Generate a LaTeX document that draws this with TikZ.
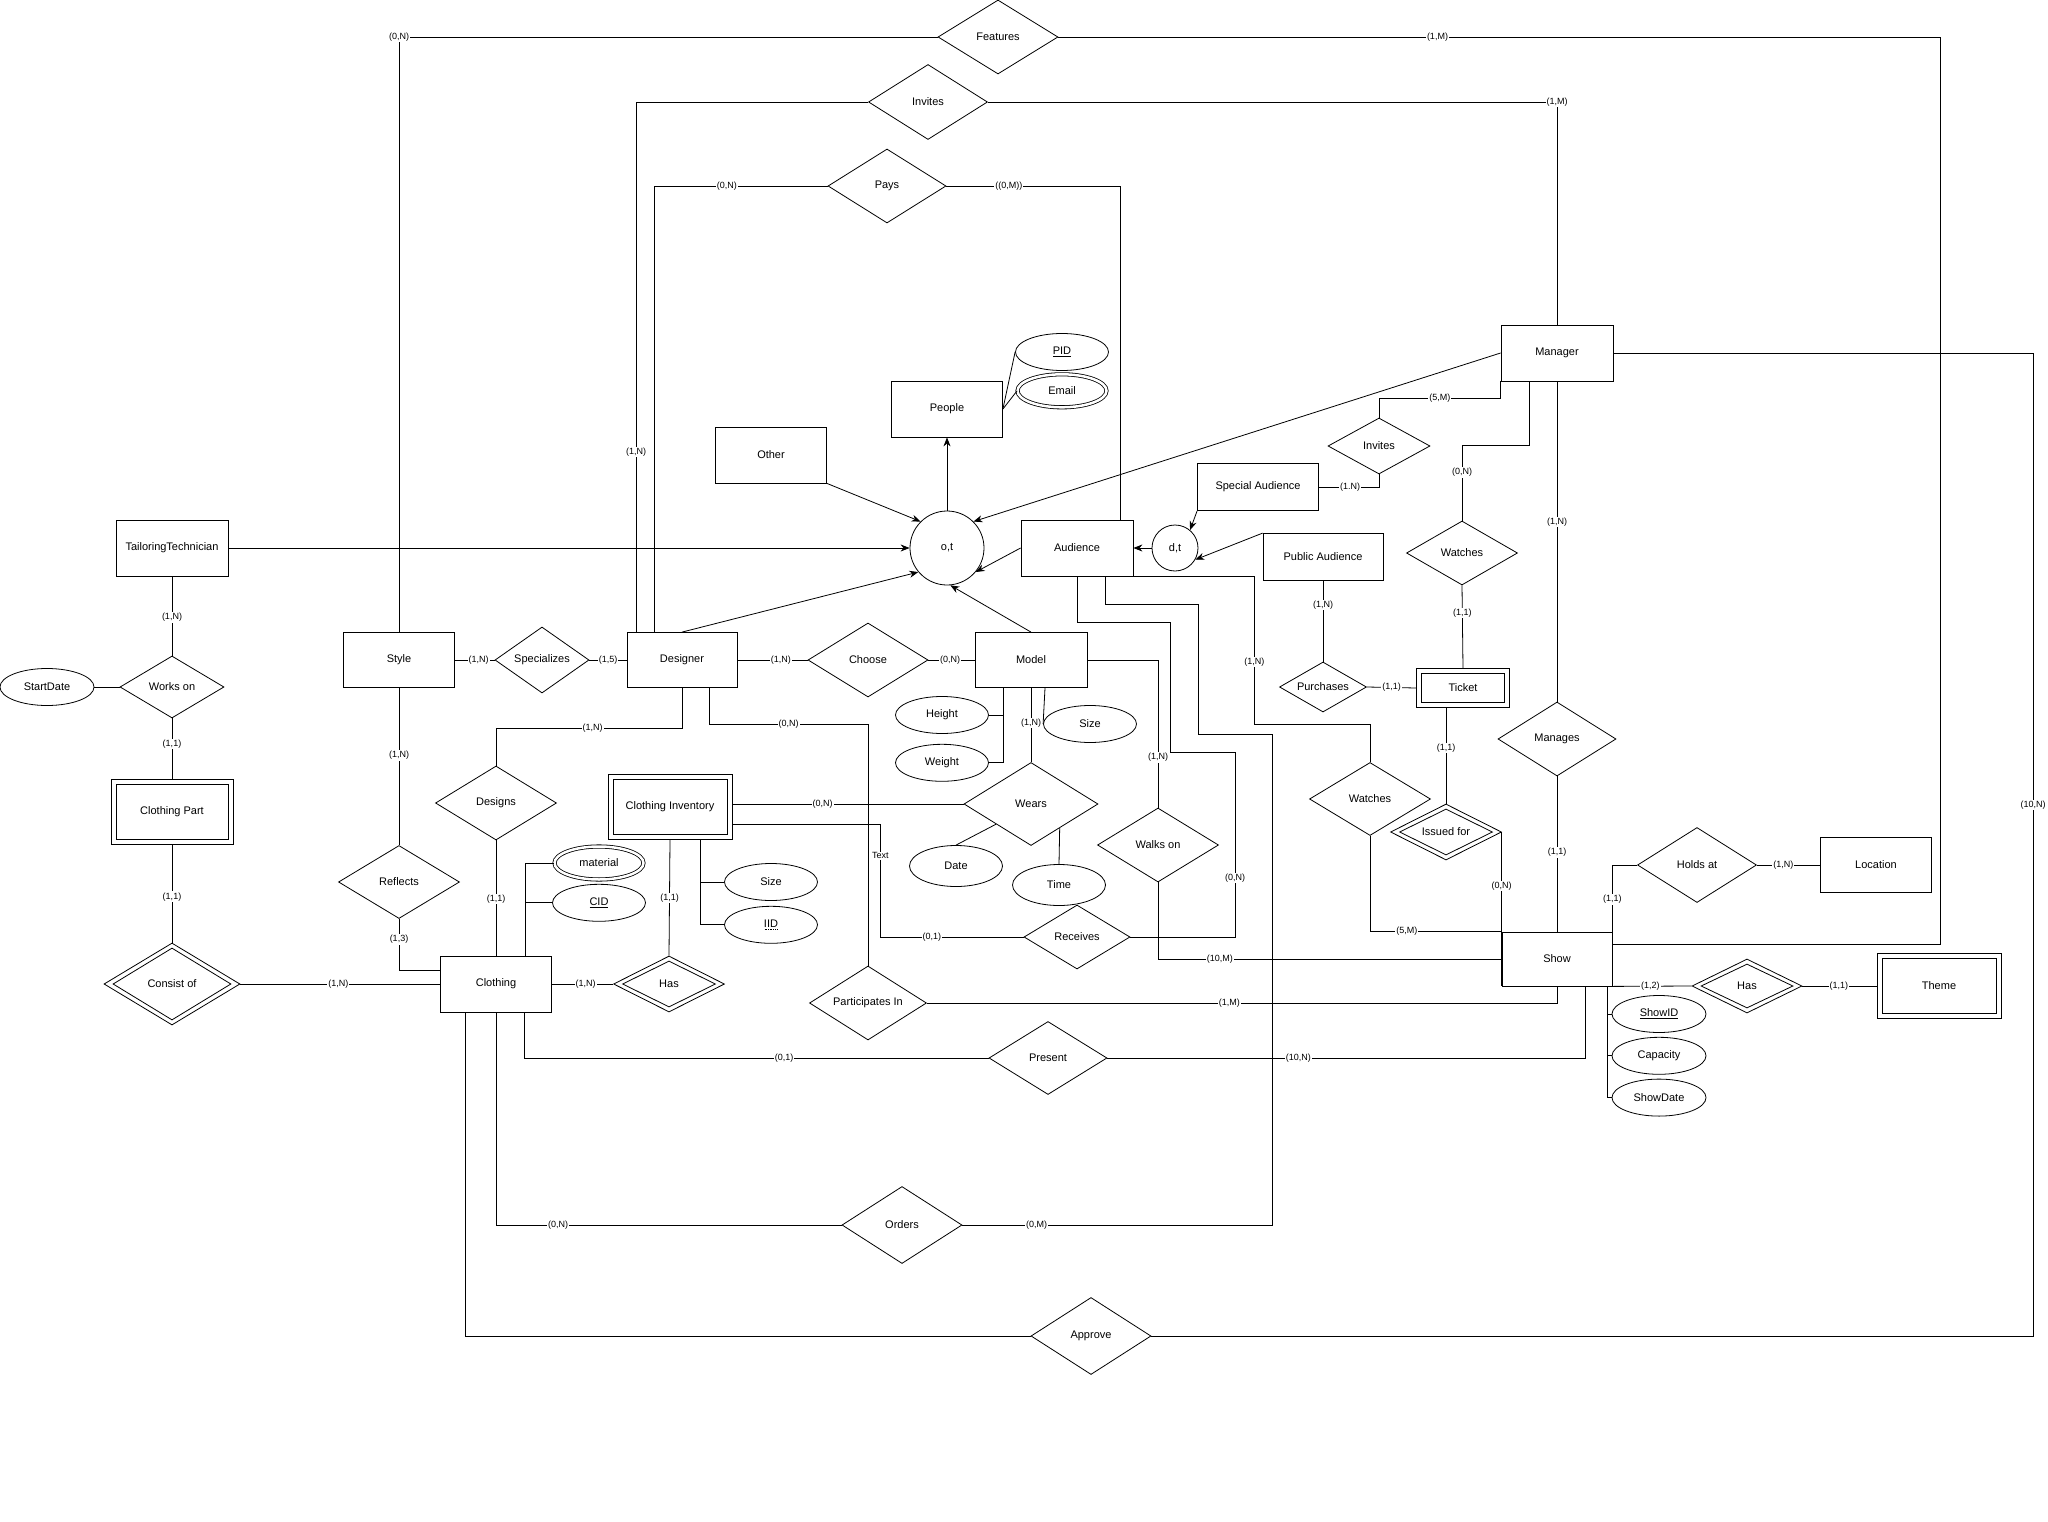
\documentclass[tikz,border=0pt]{standalone}
\usepackage{fontspec}
\setmainfont{Liberation Sans}
\usepackage{tikz}
\usetikzlibrary{shapes.geometric, arrows.meta, positioning, calc}
\newcommand\dotkey[1]{\setbox0=\hbox{#1}\rlap{\copy0}\raisebox{-2.5pt}{\hbox to \wd0{\xleaders\hbox to 1.6pt{\hss\rule{0.8pt}{0.6pt}\hss}\hfill}}}

\begin{document}
\begin{tikzpicture}[x=1pt, y=-1pt,
    every node/.style={font=\fontsize{11}{13}\selectfont},
    ent/.style 2 args={rectangle, draw, line width=0.8pt, minimum width=#1pt, minimum height=#2pt, inner sep=1pt},
    weakent/.style 2 args={ent={#1}{#2}, path picture={
        \draw[line width=0.8pt] ([shift={(5pt,-5pt)}]path picture bounding box.north west)
            rectangle ([shift={(-5pt,5pt)}]path picture bounding box.south east);}},
    rel/.style 2 args={diamond, draw, line width=0.8pt, aspect=1.6, inner sep=1pt, minimum width=#1pt, minimum height=#2pt},
    weakrel/.style 2 args={rel={#1}{#2}, path picture={
        \draw[line width=0.8pt] ([yshift=-5pt]path picture bounding box.north)
            -- ([xshift=-9pt]path picture bounding box.east)
            -- ([yshift=5pt]path picture bounding box.south)
            -- ([xshift=9pt]path picture bounding box.west) -- cycle;}},
    attr/.style={ellipse, draw, line width=0.8pt, minimum width=93pt, minimum height=37pt, inner sep=1pt},
    multiattr/.style={attr, double, double distance=2.5pt, minimum width=89pt, minimum height=33pt},
    isa/.style={circle, draw, line width=0.8pt, inner sep=1pt, minimum size=#1pt},
    card/.style={font=\fontsize{9}{10}\selectfont, fill=white, inner sep=1pt},
    link/.style={line width=0.8pt},
    arrow/.style={link, -{Stealth[length=9pt, width=7pt]}}
]
\useasboundingbox[fill=white] (0,0) rectangle (2048,1522);

\node[ent={111}{56}] (people) at (947,409) {People};
\node[ent={111}{56}] (other) at (771,455) {Other};
\node[ent={112}{56}] (tech) at (172,548) {TailoringTechnician};
\node[ent={111}{55}] (style) at (399,660) {Style};
\node[ent={110}{55}] (designer) at (682,660) {Designer};
\node[ent={112}{55}] (model) at (1031,660) {Model};
\node[ent={112}{56}] (audience) at (1077,548) {Audience};
\node[ent={121}{47}] (special) at (1258,487) {Special Audience};
\node[ent={120}{47}] (public) at (1323,557) {Public Audience};
\node[ent={112}{56}] (manager) at (1557,353) {Manager};
\node[ent={111}{56}] (clothing) at (496,984) {Clothing};
\node[ent={110}{54}] (show) at (1557,959) {Show};
\node[ent={111}{55}] (location) at (1876,865) {Location};
\node[weakent={122}{65}] (part) at (172,812) {Clothing Part};
\node[weakent={124}{65}] (inventory) at (670,807) {Clothing Inventory};
\node[weakent={93}{39}] (ticket) at (1463,688) {Ticket};
\node[weakent={124}{65}] (theme) at (1939,986) {Theme};

\node[rel={120}{74}] (features) at (998,37) {Features};
\node[rel={119}{75}] (invitesM) at (928,102) {Invites};
\node[rel={118}{74}] (pays) at (887,186) {Pays};
\node[rel={102}{56}] (invitesS) at (1379,446) {Invites};
\node[rel={111}{64}] (watchesT) at (1462,553) {Watches};
\node[rel={87}{50}] (purchases) at (1323,687) {Purchases};
\node[rel={104}{62}] (works) at (172,687) {Works on};
\node[weakrel={136}{82}] (consist) at (172,984) {Consist of};
\node[rel={94}{66}] (specializes) at (542,660) {Specializes};
\node[rel={121}{73}] (reflects) at (399,882) {Reflects};
\node[rel={121}{74}] (designs) at (496,803) {Designs};
\node[rel={120}{74}] (choose) at (868,660) {Choose};
\node[rel={134}{83}] (wears) at (1031,804) {Wears};
\node[rel={106}{64}] (receives) at (1077,937) {Receives};
\node[rel={121}{74}] (walks) at (1158,845) {Walks on};
\node[rel={121}{73}] (watchesS) at (1370,799) {Watches};
\node[weakrel={111}{56}] (issued) at (1446,832) {Issued for};
\node[rel={118}{74}] (manages) at (1557,739) {Manages};
\node[rel={119}{75}] (holds) at (1697,865) {Holds at};
\node[weakrel={111}{56}] (hasC) at (669,984) {Has};
\node[weakrel={110}{54}] (hasT) at (1747,986) {Has};
\node[rel={117}{74}] (participates) at (868,1003) {Participates In};
\node[rel={118}{73}] (present) at (1048,1058) {Present};
\node[rel={120}{77}] (orders) at (902,1225) {Orders};
\node[rel={120}{77}] (approve) at (1091,1336) {Approve};

\node[attr] (pid) at (1062,352) {\underline{PID}};
\node[multiattr, below=3pt of pid] (email) {Email};
\node[attr, minimum width=94pt] (startdate) at (47,687) {StartDate};
\node[multiattr] (material) at (599,863) {material};
\node[attr, below=4pt of material] (cid) {\underline{CID}};
\node[attr] (invsize) at (771,882) {Size};
\node[attr, below=5pt of invsize] (iid) {\dotkey{IID}};
\node[attr] (height) at (942,715) {Height};
\node[attr, below=10pt of height] (weight) {Weight};
\node[attr] (modelsize) at (1090,724) {Size};
\node[attr, minimum height=41pt] (date) at (956,866) {Date};
\node[attr, minimum height=41pt] (time) at (1059,885) {Time};
\node[attr, minimum width=94pt] (showid) at (1659,1014) {\underline{ShowID}};
\node[attr, minimum width=94pt, below=4pt of showid] (capacity) {Capacity};
\node[attr, minimum width=94pt, below=4pt of capacity] (showdate) {ShowDate};

\node[isa=74] (ot) at (947,548) {o,t};
\node[isa=46] (dt) at (1175,548) {d,t};

\coordinate (rimF) at (1940,37);
\coordinate (rimM) at (2033,353);

\draw[link] (style.north) |- node[card, pos=.5]{(0,N)} (features.west);
\draw[link] (features.east) -- node[card, pos=.43]{(1,M)} (rimF) |- ([yshift=15pt]show.east);
\draw[link] ([xshift=-46pt]designer.north) |- node[card, pos=.17]{(1,N)} (invitesM.west);
\draw[link] (invitesM.east) -| node[card, pos=.5]{(1,M)} (manager.north);
\draw[link] ([xshift=-28pt]designer.north) |- node[card, pos=.71]{(0,N)} (pays.west);
\draw[link] (pays.east) -| node[card, pos=.18]{((0,M))} ([xshift=43pt]audience.north);

\draw[arrow] (tech.east) -- (ot.west);
\draw[arrow] (other.south east) -- (ot.135);
\draw[arrow] (ot.north) -- (people.south);
\draw[arrow] (manager.west) -- (ot.45);
\draw[arrow] (designer.north) -- (ot.-140);
\draw[arrow] (model.north) -- (ot.-85);
\draw[arrow] (audience.west) -- (ot.-40);
\draw[arrow] (dt.west) -- (audience.east);
\draw[arrow] (special.south west) -- (dt.50);
\draw[arrow] (public.north west) -- (dt.-30);
\draw[link] (people.east) -- (pid.west);
\draw[link] (people.east) -- (email.west);

\draw[link] (invitesS.north) -- ++(0,-19) -| node[card, pos=.25]{(5,M)} (manager.south west);
\draw[link] (invitesS.south) |- node[card, pos=.74]{(1.N)} (special.east);
\draw[link] (watchesT.north) -- node[card, pos=.64]{(0,N)} ++(0,-75) -| ([xshift=-28pt]manager.south);
\draw[link] (watchesT.south) -- node[card, pos=.33]{(1,1)} (ticket.north);
\draw[link] (manager.south) -- node[card, pos=.44]{(1,N)} (manages.north);
\draw[link] (manages.south) -- node[card, pos=.49]{(1,1)} (show.north);
\draw[link] (manager.east) -- (rimM) |- node[card, pos=.23]{(10,N)} (approve.east);

\draw[link] (public.south) -- node[card, pos=.3]{(1,N)} (purchases.north);
\draw[link] (purchases.east) -- node[card, pos=.5]{(1,1)} (ticket.west);
\draw[link] ([xshift=-17pt]ticket.south) -- node[card, pos=.42]{(1,1)} (issued.north);
\draw[link] (show.south west |- issued.east) -- node[card, pos=.35]{(0,N)} (show.south west);

\draw[link] (holds.west) -| node[card, pos=.76]{(1,1)} (show.north east);
\draw[link] (holds.east) -- node[card, pos=.42]{(1,N)} (location.west);
\draw[link] (show.south east) -- node[card, pos=.48]{(1,2)} (hasT.west);
\draw[link] (hasT.east) -- node[card, pos=.49]{(1,1)} (theme.west);
\draw[link] ([xshift=50pt]show.south) |- (showid.west);
\draw[link] ([xshift=50pt]show.south) |- (capacity.west);
\draw[link] ([xshift=50pt]show.south) |- (showdate.west);

\draw[link] (walks.south) |- node[card, pos=.59]{(10,M)} (show.west);
\draw[link] (watchesS.south) |- node[card, pos=.64]{(5,M)} (show.north west);
\draw[link] (participates.east) -| node[card, pos=.24]{(1,M)} (show.south);
\draw[link] ([xshift=28pt]show.south) |- node[card, pos=.8]{(10,N)} (present.east);
\draw[link] (present.west) -| node[card, pos=.22]{(0,1)} ([xshift=28pt]clothing.south);

\draw[link] (audience.south) -- ++(0,46) -- ++(93,0) -- ++(0,130) -- ++(65,0) |- node[card, pos=.34]{(0,N)} (receives.east);
\draw[link] ([xshift=28pt]audience.south) -- ++(0,28) -- ++(93,0) -- ++(0,130) -- ++(74,0) |- node[card, pos=.88]{(0,M)} (orders.east);
\draw[link] (audience.south east) -| node[card, pos=.79]{(1,N)} ++(121,148) -| (watchesS.north);

\draw[link] (model.east) -| node[card, pos=.83]{(1,N)} (walks.north);
\draw[link] (model.south) -- node[card, pos=.47]{(1,N)} (wears.north);
\draw[link] ([xshift=-28pt]model.south) |- (height.east);
\draw[link] ([xshift=-28pt]model.south) |- (weight.east);
\draw[link] ([xshift=14pt]model.south) -- (modelsize.west);
\draw[link] (wears.-150) -- (date.north);
\draw[link] (wears.-40) -- (time.north);

\draw[link] (style.east) -- node[card, pos=.6]{(1,N)} (specializes.west);
\draw[link] (specializes.east) -- node[card, pos=.5]{(1,5)} (designer.west);
\draw[link] (designer.east) -- node[card, pos=.62]{(1,N)} (choose.west);
\draw[link] (choose.east) -- node[card, pos=.47]{(0,N)} (model.west);
\draw[link] (designer.south) -- ++(0,40) -| node[card, pos=.24]{(1,N)} (designs.north);
\draw[link] ([xshift=27pt]designer.south) -- ++(0,36) -| node[card, pos=.25]{(0,N)} (participates.north);

\draw[link] (style.south) -- node[card, pos=.43]{(1,N)} (reflects.north);
\draw[link] (reflects.south) |- node[card, pos=.2]{(1,3)} ([yshift=14pt]clothing.west);
\draw[link] (designs.south) -- node[card, pos=.51]{(1,1)} (clothing.north);
\draw[link] ([xshift=29pt]clothing.north) |- (material.west);
\draw[link] ([xshift=29pt]clothing.north) |- (cid.west);
\draw[link] (clothing.east) -- node[card, pos=.55]{(1,N)} (hasC.west);
\draw[link] (inventory.south) -- node[card, pos=.5]{(1,1)} (hasC.north);
\draw[link] ([xshift=30pt]inventory.south) |- (invsize.west);
\draw[link] ([xshift=30pt]inventory.south) |- (iid.west);
\draw[link] (inventory.east |- wears.west) -- node[card, pos=.39]{(0,N)} (wears.west);
\draw[link] ([yshift=-17pt]inventory.east) -- ++(148,0) |- node[card, pos=.14]{Text} node[card, pos=.68]{(0,1)} (receives.west);
\draw[link] (orders.west) -| node[card, pos=.41]{(0,N)} (clothing.south);
\draw[link] (approve.west) -| ([xshift=-31pt]clothing.south);

\draw[link] (tech.south) -- node[card, pos=.52]{(1,N)} (works.north);
\draw[link] (startdate.east) -- (works.west);
\draw[link] (works.south) -- node[card, pos=.42]{(1,1)} (part.north);
\draw[link] (part.south) -- node[card, pos=.53]{(1,1)} (consist.north);
\draw[link] (consist.east) -- node[card, pos=.49]{(1,N)} (clothing.west);

\end{tikzpicture}
\end{document}
